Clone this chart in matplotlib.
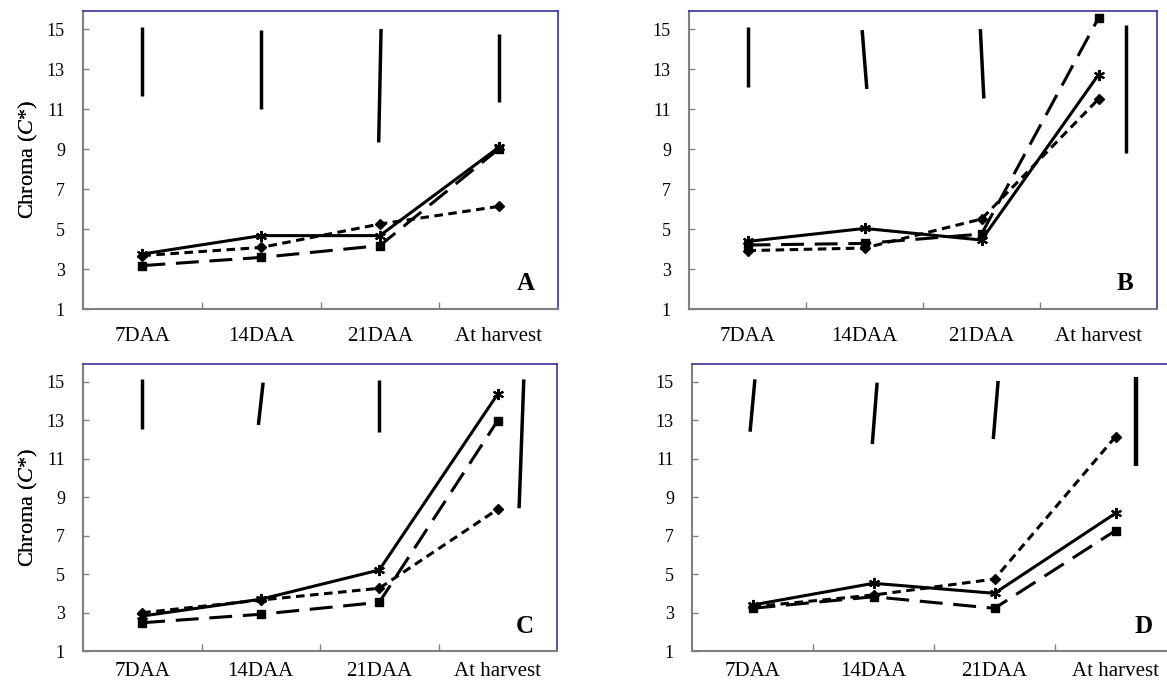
import matplotlib.pyplot as plt

plt.rcParams['font.family'] = ['Liberation Serif', 'DejaVu Serif']
plt.rcParams['mathtext.fontset'] = 'custom'
plt.rcParams['mathtext.rm'] = 'Liberation Serif'
plt.rcParams['mathtext.it'] = 'Liberation Serif:italic'

# ----------------------------------------------------------------------------
cats = ['7DAA', '14DAA', '21DAA', 'At harvest']
panel_names = ['A', 'B', 'C', 'D']

# solid line / asterisk, long dash / square, short dash / diamond
star_vals = {
    'A': [3.75, 4.67, 4.67, 9.08],
    'B': [4.38, 5.03, 4.45, 12.72],
    'C': [2.82, 3.69, 5.21, 14.36],
    'D': [3.39, 4.52, 4.00, 8.16],
}
square_vals = {
    'A': [3.17, 3.58, 4.17, 9.00],
    'B': [4.20, 4.28, 4.75, 15.55],
    'C': [2.47, 2.91, 3.53, 12.98],
    'D': [3.22, 3.82, 3.22, 7.26],
}
diamond_vals = {
    'A': [3.67, 4.08, 5.25, 6.13],
    'B': [3.92, 4.05, 5.50, 11.50],
    'C': [2.99, 3.65, 4.26, 8.37],
    'D': [3.30, 3.91, 4.74, 12.14],
}

# LSD bars (top / bottom value, x at top / bottom in category units)
lsd_top = {
    'A': [15.12, 14.95, 15.00, 14.75],
    'B': [15.12, 14.95, 15.00, 15.22],
    'C': [15.12, 14.95, 15.09, 15.12],
    'D': [15.12, 14.95, 15.04, 15.23],
}
lsd_bottom = {
    'A': [11.67, 11.00, 9.33, 11.33],
    'B': [12.08, 12.00, 11.53, 8.78],
    'C': [12.54, 12.75, 12.40, 8.42],
    'D': [12.40, 11.76, 12.02, 10.62],
}
lsd_x_top = {
    'A': [0.0, 1.0, 2.01, 3.0],
    'B': [0.0, 0.98, 1.99, 3.235],
    'C': [0.0, 1.02, 2.0, 3.22],
    'D': [0.02, 1.03, 2.03, 3.17],
}
lsd_x_bottom = {
    'A': [0.0, 1.0, 1.99, 3.0],
    'B': [0.0, 1.02, 2.02, 3.235],
    'C': [0.0, 0.98, 2.0, 3.18],
    'D': [-0.02, 0.99, 1.99, 3.17],
}
# ----------------------------------------------------------------------------

W, H = 1167, 685
# axes boxes in pixels: left, top, right, bottom
boxes = {
    'A': (83, 10.7, 558, 309),
    'B': (689, 10.7, 1157, 309),
    'C': (83, 364, 557, 651),
    'D': (692, 364, 1176, 651),
}

fig = plt.figure(figsize=(W / 100, H / 100), dpi=100)

gray = '#808080'
blue = '#34349a'

for p in panel_names:
    l, t, r, b = boxes[p]
    ax = fig.add_axes([l / W, (H - b) / H, (r - l) / W, (b - t) / H])
    x = range(len(cats))

    ax.plot(x, star_vals[p], color='black', lw=2.2, ls='-',
            marker=(6, 2, 0), ms=8, mew=1.5, zorder=4)
    ax.plot(x, square_vals[p], color='black', lw=2.2, ls=(0, (7.5, 3.5)),
            marker='s', ms=5.5, zorder=3)
    ax.plot(x, diamond_vals[p], color='black', lw=2.2, ls=(0, (2.8, 1.8)),
            marker='D', ms=5, zorder=3)

    for i in range(len(cats)):
        w = 3.2 if (p == 'D' and i == 3) else 2.5
        ax.plot([lsd_x_top[p][i], lsd_x_bottom[p][i]],
                [lsd_top[p][i], lsd_bottom[p][i]],
                color='black', lw=w, solid_capstyle='butt', zorder=5)

    ax.set_xlim(-0.5, 3.5)
    ax.set_ylim(1, 15.92)
    ax.set_yticks(range(1, 16, 2))
    ax.tick_params(axis='y', direction='in', length=4, width=1, color=gray,
                   pad=13, labelsize=13)

    ax.set_xticks([0.5, 1.5, 2.5])
    ax.set_xticklabels([])
    ax.tick_params(axis='x', which='major', direction='in', length=5,
                   width=1, color=gray)
    ax.set_xticks(list(x), minor=True)
    ax.set_xticklabels(cats, minor=True)
    xpad = 13 if p in ('A', 'B') else 8
    ax.tick_params(axis='x', which='minor', length=0, pad=xpad, labelsize=15)

    for s in ['left', 'bottom']:
        ax.spines[s].set_color(gray)
        ax.spines[s].set_linewidth(1.5)
    for s in ['top', 'right']:
        ax.spines[s].set_color(blue)
        ax.spines[s].set_linewidth(1.2)

    ax.set_ylabel(r'Chroma ($\mathit{C}$*)', fontsize=16)
    ax.yaxis.set_label_coords((40 - l) / (r - l), 0.5)

    ax.text(443 / 475, 0.087, p,
            transform=ax.transAxes, ha='center', va='center',
            fontsize=18, fontweight='bold')

fig.savefig('out.png', dpi=100)
